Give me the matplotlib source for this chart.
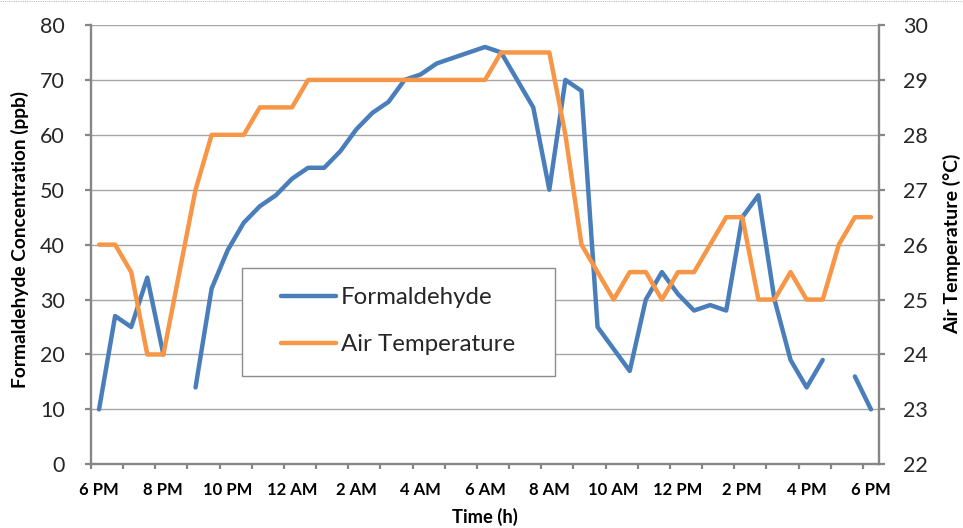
import numpy as np
import matplotlib
matplotlib.use("Agg")
import matplotlib.pyplot as plt
from matplotlib.lines import Line2D
from matplotlib.patches import Rectangle

nan = np.nan

# ---- data (half-hourly, 6 PM to 6 PM) ----
time_labels = ["6 PM", "8 PM", "10 PM", "12 AM", "2 AM", "4 AM", "6 AM",
               "8 AM", "10 AM", "12 PM", "2 PM", "4 PM", "6 PM"]
formaldehyde = [10, 27, 25, 34, 20, nan, 14, 32, 39, 44, 47, 49, 52, 54, 54,
                57, 61, 64, 66, 70, 71, 73, 74, 75, 76, 75, 70, 65, 50, 70,
                68, 25, 21, 17, 30, 35, 31, 28, 29, 28, 45, 49, 30, 19, 14,
                19, nan, 16, 10]
air_temperature = [26, 26, 25.5, 24, 24, 25.5, 27, 28, 28, 28, 28.5, 28.5,
                   28.5, 29, 29, 29, 29, 29, 29, 29, 29, 29, 29, 29, 29, 29.5,
                   29.5, 29.5, 29.5, 28, 26, 25.5, 25, 25.5, 25.5, 25, 25.5,
                   25.5, 26, 26.5, 26.5, 25, 25, 25.5, 25, 25, 26, 26.5, 26.5]
left_ticks = list(range(0, 81, 10))
right_ticks = list(range(22, 31))
series_names = ["Formaldehyde", "Air Temperature"]

plt.rcParams["font.family"] = ["Lato", "DejaVu Sans"]

W, H = 963, 528
fig = plt.figure(figsize=(W / 100, H / 100), dpi=100)
L, R, T, B = 91, 879, 25, 464.3
ax = fig.add_axes([L / W, 1 - B / H, (R - L) / W, (B - T) / H])
ax2 = ax.twinx()

blue = "#4A7EBB"
orange = "#F79646"
axis_gray = "#868686"
grid_gray = "#A6A6A6"
lw = 3.2

x = np.arange(len(formaldehyde))
ax.plot(x, formaldehyde, color=blue, lw=lw, solid_capstyle="round",
        solid_joinstyle="round", zorder=3)
ax2.plot(x, air_temperature, color=orange, lw=lw, solid_capstyle="round",
         solid_joinstyle="round", zorder=3)

ax.set_xlim(-0.5, len(formaldehyde) - 0.5)
ax.set_ylim(left_ticks[0], left_ticks[-1])
ax2.set_ylim(right_ticks[0], right_ticks[-1])
ax.set_yticks(left_ticks)
ax2.set_yticks(right_ticks)

ax.yaxis.grid(True, color=grid_gray, lw=1.0)
ax.set_axisbelow(True)

# x ticks: labels every 2 h, tick marks every hour (between categories)
ax.set_xticks(np.arange(0, len(formaldehyde), 4))
ax.set_xticklabels(time_labels)
ax.set_xticks(np.arange(-0.5, len(formaldehyde) - 1, 2), minor=True)
ax.tick_params(axis="x", which="major", length=0, pad=13)
ax.tick_params(axis="x", which="minor", length=3.8, width=1.6, color=axis_gray)
for lab in ax.get_xticklabels():
    lab.set_fontweight("bold")
    lab.set_fontsize(12)

ax.tick_params(axis="y", length=4.5, width=1.6, color=axis_gray, pad=14.5,
               labelsize=15.5, labelcolor="#262626")
ax2.tick_params(axis="y", length=4.5, width=1.6, color=axis_gray, pad=12.5,
                labelsize=15.5, labelcolor="#262626")

for s in ["top", "right"]:
    ax.spines[s].set_visible(False)
for s in ["top", "left", "bottom"]:
    ax2.spines[s].set_visible(False)
for sp in [ax.spines["left"], ax.spines["bottom"], ax2.spines["right"]]:
    sp.set_color(axis_gray)
    sp.set_linewidth(1.7)

# axis titles
fig.text(20 / W, 1 - 240 / H, "Formaldehyde Concentration (ppb)", rotation=90,
         ha="center", va="center", fontsize=13.8, fontweight="bold")
fig.text(952 / W, 1 - 244 / H, "Air Temperature (°C)", rotation=90,
         ha="center", va="center", fontsize=14.0, fontweight="bold")
fig.text(485 / W, 1 - 517 / H, "Time (h)", ha="center", va="center",
         fontsize=13.2, fontweight="bold")

# legend box
rect = Rectangle((0.192, 0.2017), 0.397, 0.2443, transform=ax2.transAxes,
                 facecolor="white", edgecolor="#8C8C8C", lw=1.0, zorder=5)
ax2.add_patch(rect)
handles = [Line2D([], [], color=blue, lw=lw, solid_capstyle="round"),
           Line2D([], [], color=orange, lw=lw, solid_capstyle="round")]
leg = ax2.legend(handles, series_names, loc="center left",
                 bbox_to_anchor=(0.2407, 0.3258), frameon=False,
                 borderpad=0, borderaxespad=0, handlelength=2.3,
                 handletextpad=0.2, labelspacing=1.1,
                 prop={"size": 17.3})
leg.set_zorder(6)
for t in leg.get_texts():
    t.set_color("#262626")

# dotted chart-area border at top
fig.add_artist(Line2D([0, 1], [1 - 0.5 / H, 1 - 0.5 / H], transform=fig.transFigure,
                      color="#BFBFBF", lw=0.8, ls=(0, (1, 1))))

fig.savefig("out.png", dpi=100)
